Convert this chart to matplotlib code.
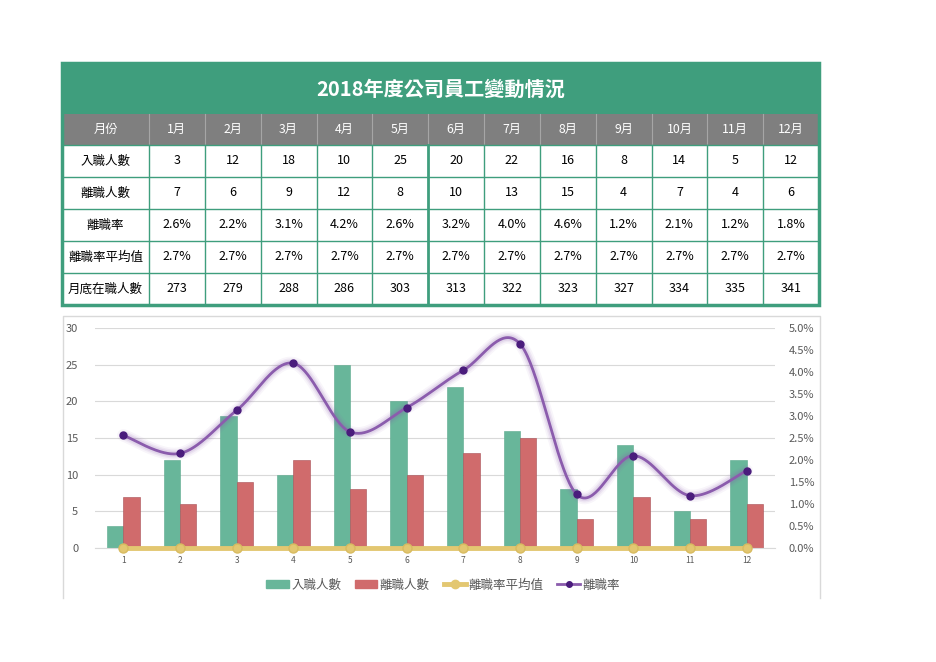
import numpy as np
import matplotlib
matplotlib.use("Agg")
import matplotlib.pyplot as plt
from matplotlib.patches import Rectangle
from matplotlib.lines import Line2D
from matplotlib.patches import Patch

plt.rcParams['font.family'] = ['Noto Sans CJK TC', 'DejaVu Sans']

# ---------------- data ----------------
title = "2018年度公司員工變動情況"
months = ["1月", "2月", "3月", "4月", "5月", "6月", "7月", "8月", "9月", "10月", "11月", "12月"]
month_nums = [1, 2, 3, 4, 5, 6, 7, 8, 9, 10, 11, 12]
row_names = ["入職人數", "離職人數", "離職率", "離職率平均值", "月底在職人數"]
hires = [3, 12, 18, 10, 25, 20, 22, 16, 8, 14, 5, 12]
leaves = [7, 6, 9, 12, 8, 10, 13, 15, 4, 7, 4, 6]
rate_labels = ["2.6%", "2.2%", "3.1%", "4.2%", "2.6%", "3.2%", "4.0%", "4.6%", "1.2%", "2.1%", "1.2%", "1.8%"]
avg_labels = ["2.7%"] * 12
headcount = [273, 279, 288, 286, 303, 313, 322, 323, 327, 334, 335, 341]
rates = [0.0256, 0.0215, 0.0313, 0.0420, 0.0264, 0.0319, 0.0404, 0.0464, 0.0122, 0.0210, 0.0119, 0.0176]
avg_rate = [0.027] * 12

GREEN = "#3F9E7D"
HEAD_GRAY = "#7F7F7F"
BAR_G = "#68B69A"
BAR_R = "#D06B6C"
GOLD = "#E3C771"
PURPLE = "#8B5CAD"
PURPLE_D = "#4A1C7C"

W, H = 936, 662
fig = plt.figure(figsize=(W / 100, H / 100), dpi=100)
fig.patch.set_facecolor("white")

# ---------------- table (pixel space background axes) ----------------
bg = fig.add_axes([0, 0, 1, 1])
bg.set_xlim(0, W)
bg.set_ylim(H, 0)
bg.axis("off")

x0, x1 = 62, 819
c0 = 149
cw = (x1 - c0) / 12
col_edges = [x0, c0] + [c0 + cw * (i + 1) for i in range(12)]
row_edges = [63, 114, 145, 177, 209, 241, 273, 305]

# title bar
bg.add_patch(Rectangle((x0, row_edges[0]), x1 - x0, row_edges[1] - row_edges[0], color=GREEN, lw=0))
bg.text((x0 + x1) / 2, (row_edges[0] + row_edges[1]) / 2 + 1, title, color="white",
        fontsize=14.5, fontweight="bold", ha="center", va="center")
# header
bg.add_patch(Rectangle((x0, row_edges[1]), x1 - x0, row_edges[2] - row_edges[1], color=HEAD_GRAY, lw=0))
hy = (row_edges[1] + row_edges[2]) / 2
bg.text((x0 + c0) / 2, hy, "月份", color="white", fontsize=8.8, ha="center", va="center")
for i, m in enumerate(months):
    cx = (col_edges[i + 1] + col_edges[i + 2]) / 2
    bg.text(cx, hy, m, color="white", fontsize=8.8, ha="center", va="center")
for xe in col_edges[1:-1]:
    bg.plot([xe, xe], [row_edges[1], row_edges[2]], color="#A6A6A6", lw=0.8)

rows = [
    [str(v) for v in hires],
    [str(v) for v in leaves],
    rate_labels,
    avg_labels,
    [str(v) for v in headcount],
]
for r, (name, vals) in enumerate(zip(row_names, rows)):
    ya, yb = row_edges[r + 2], row_edges[r + 3]
    cy = (ya + yb) / 2
    bg.text((x0 + c0) / 2, cy, name, color="black", fontsize=9, ha="center", va="center")
    for i, v in enumerate(vals):
        cx = (col_edges[i + 1] + col_edges[i + 2]) / 2
        bg.text(cx, cy, v, color="black", fontsize=9, ha="center", va="center")

# grid lines of table body
for ye in row_edges[3:-1]:
    bg.plot([x0, x1], [ye, ye], color=GREEN, lw=1.0)
bg.plot([x0, x1], [row_edges[2], row_edges[2]], color=GREEN, lw=1.0)
for k, xe in enumerate(col_edges[1:-1]):
    lw = 2.0 if k == 5 else 1.0
    bg.plot([xe, xe], [row_edges[2], row_edges[-1]], color=GREEN, lw=lw)
# outer frame
bg.add_patch(Rectangle((x0, row_edges[0]), x1 - x0, row_edges[-1] - row_edges[0],
                       fill=False, edgecolor=GREEN, lw=2.5))

# chart border
bg.plot([63, 63, 820, 820], [598, 316, 316, 598], color="#D9D9D9", lw=1.0)

# ---------------- chart ----------------
pl, pr, pt, pb = 95, 775, 328, 548
ax = fig.add_axes([pl / W, 1 - pb / H, (pr - pl) / W, (pb - pt) / H])
ax.set_xlim(0.5, 12.5)
ax.set_ylim(0, 30)
ax.set_yticks(range(0, 31, 5))
ax.set_xticks(month_nums)
ax.set_xticklabels([str(m) for m in month_nums])
ax.grid(axis="y", color="#D9D9D9", lw=0.8)
ax.set_axisbelow(True)
for s in ["left", "right", "top"]:
    ax.spines[s].set_visible(False)
ax.spines["bottom"].set_color("#D9D9D9")
ax.tick_params(axis="y", length=0, labelsize=8, labelcolor="#595959", pad=12)
ax.tick_params(axis="x", length=0, labelsize=6, labelcolor="#595959", pad=6)

x = np.array(month_nums, dtype=float)
bw = 0.29
ax.bar(x - bw / 2, hires, width=bw, color=BAR_G, edgecolor="#5AA88C", lw=0.4, zorder=2)
ax.bar(x + bw / 2, leaves, width=bw, color=BAR_R, edgecolor="#A84F55", lw=0.4, zorder=2)
ax.plot(x, avg_rate, color=GOLD, lw=3.5, marker="o", ms=6.5, mfc=GOLD, mec="#D8BB60",
        zorder=4, clip_on=False)

ax2 = ax.twinx()
ax2.set_ylim(0, 0.05)
ax2.set_yticks(np.arange(0, 0.0501, 0.005))
ax2.set_yticklabels([f"{v * 100:.1f}%" for v in np.arange(0, 0.0501, 0.005)])
for s in ax2.spines.values():
    s.set_visible(False)
ax2.tick_params(axis="y", length=0, labelsize=8, labelcolor="#595959", pad=10)


def smooth(xs, ys, n=40):
    xs = np.asarray(xs, float)
    ys = np.asarray(ys, float)
    px = np.concatenate([[xs[0]], xs, [xs[-1]]])
    py = np.concatenate([[ys[0]], ys, [ys[-1]]])
    outx, outy = [], []
    t = np.linspace(0, 1, n)
    for i in range(1, len(px) - 2):
        p0 = np.array([px[i], py[i]])
        p3 = np.array([px[i + 1], py[i + 1]])
        c1 = p0 + (np.array([px[i + 1], py[i + 1]]) - np.array([px[i - 1], py[i - 1]])) / 6
        c2 = p3 - (np.array([px[i + 2], py[i + 2]]) - np.array([px[i], py[i]])) / 6
        b = ((1 - t) ** 3)[:, None] * p0 + (3 * (1 - t) ** 2 * t)[:, None] * c1 + \
            (3 * (1 - t) * t ** 2)[:, None] * c2 + (t ** 3)[:, None] * p3
        outx.extend(b[:, 0])
        outy.extend(b[:, 1])
    return np.array(outx), np.array(outy)


sx, sy = smooth(x, rates)
for lw, a in [(9, 0.06), (6.5, 0.09), (4.5, 0.12)]:
    ax2.plot(sx, sy, color=PURPLE, lw=lw, alpha=a, solid_capstyle="round", zorder=3)
ax2.plot(sx, sy, color=PURPLE, lw=2.0, zorder=5)
ax2.plot(x, rates, ls="none", marker="o", ms=5, mfc=PURPLE_D, mec=PURPLE_D, zorder=6)

handles = [
    Patch(facecolor=BAR_G, edgecolor=BAR_G),
    Patch(facecolor=BAR_R, edgecolor=BAR_R),
    Line2D([0], [0], color=GOLD, lw=3.5, marker="o", ms=6, mfc=GOLD, mec=GOLD),
    Line2D([0], [0], color=PURPLE, lw=2.0, marker="o", ms=4, mfc=PURPLE_D, mec=PURPLE_D),
]
labels = ["入職人數", "離職人數", "離職率平均值", "離職率"]
leg = fig.legend(handles, labels, loc="center", bbox_to_anchor=(443 / W, 1 - 585 / H), ncol=4,
                 frameon=False, fontsize=9, handlelength=1.8, handletextpad=0.2, columnspacing=1.1,
                 handleheight=0.6)
for t in leg.get_texts():
    t.set_color("#595959")

fig.savefig("out.png", dpi=100, facecolor="white")
